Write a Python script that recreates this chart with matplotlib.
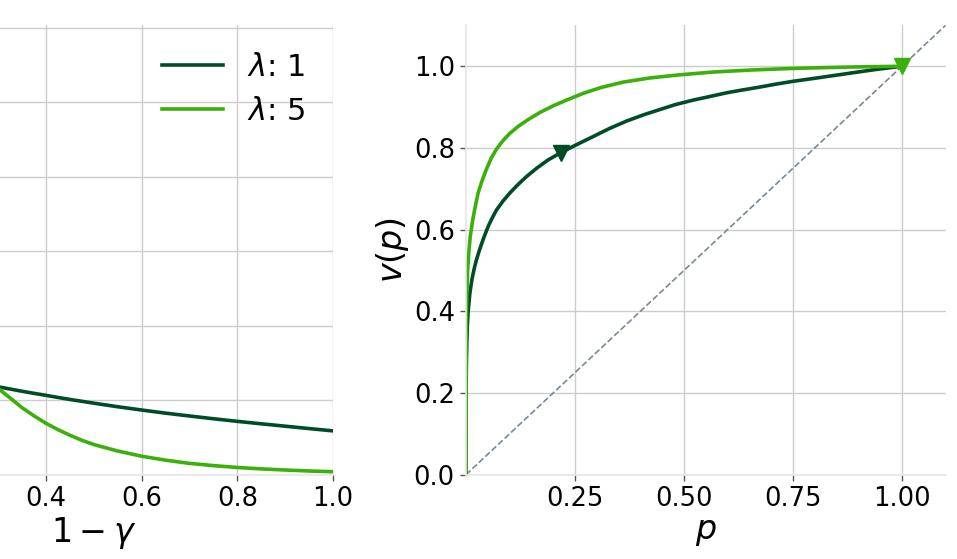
import numpy as np
import matplotlib.pyplot as plt

dark = '#004d25'
light = '#3cb00a'
labels = ['$\\lambda$: 1', '$\\lambda$: 5']

# left panel: value vs 1 - gamma (only the part from ~0.3 is visible)
g_x = [0.30, 0.325, 0.35, 0.375, 0.40, 0.425, 0.45, 0.475, 0.50, 0.55,
       0.60, 0.65, 0.70, 0.75, 0.80, 0.85, 0.90, 0.95, 1.0]
g_l1 = [1.18, 1.15, 1.12, 1.092, 1.065, 1.037, 1.01, 0.985, 0.96, 0.912,
        0.868, 0.826, 0.788, 0.751, 0.716, 0.683, 0.651, 0.619, 0.588]
g_l5 = [1.16, 1.03, 0.90, 0.79, 0.69, 0.605, 0.530, 0.462, 0.405, 0.318,
        0.248, 0.195, 0.152, 0.122, 0.097, 0.078, 0.063, 0.050, 0.040]

# right panel: v(p)
p_l1 = [0.0, 0.0005, 0.001, 0.002, 0.003, 0.005, 0.009, 0.014, 0.019, 0.024,
        0.031, 0.040, 0.051, 0.060, 0.070, 0.085, 0.101, 0.120, 0.139, 0.163,
        0.189, 0.217, 0.25, 0.292, 0.33, 0.369, 0.41, 0.445, 0.48, 0.521,
        0.56, 0.598, 0.635, 0.674, 0.71, 0.75, 0.81, 0.881, 0.94, 1.0]
v_l1 = [0.0, 0.22, 0.27, 0.325, 0.363, 0.40, 0.445, 0.48, 0.505, 0.526,
        0.55, 0.578, 0.608, 0.628, 0.648, 0.670, 0.690, 0.711, 0.730, 0.751,
        0.771, 0.788, 0.806, 0.828, 0.848, 0.866, 0.882, 0.894, 0.906, 0.917,
        0.926, 0.935, 0.942, 0.949, 0.956, 0.963, 0.972, 0.983, 0.992, 1.0]
p_l5 = [0.0, 0.0005, 0.001, 0.002, 0.004, 0.007, 0.010, 0.015, 0.020, 0.028,
        0.037, 0.047, 0.058, 0.070, 0.085, 0.100, 0.120, 0.145, 0.170, 0.200,
        0.235, 0.27, 0.31, 0.36, 0.42, 0.49, 0.57, 0.66, 0.76, 0.88, 1.0]
v_l5 = [0.0, 0.33, 0.39, 0.445, 0.505, 0.55, 0.585, 0.62, 0.65, 0.69,
        0.72, 0.748, 0.775, 0.797, 0.818, 0.835, 0.853, 0.871, 0.887, 0.903,
        0.919, 0.934, 0.948, 0.961, 0.971, 0.979, 0.986, 0.991, 0.995, 0.998, 1.0]
mark_p = [0.217, 1.0]
mark_v = [0.787, 1.0]

plt.rcParams['xtick.labelsize'] = 18.5
plt.rcParams['ytick.labelsize'] = 18.5

fig = plt.figure(figsize=(9.57, 5.59), dpi=100)
ax1 = fig.add_axes([-0.152, 0.1508, 0.5, 0.8038])
ax2 = fig.add_axes([0.4869, 0.1508, 0.5011, 0.8038])

for ax in (ax1, ax2):
    ax.grid(True, color='#cccccc', lw=1.0)
    ax.set_axisbelow(True)
    for s in ('top', 'right'):
        ax.spines[s].set_visible(False)
    for s in ('left', 'bottom'):
        ax.spines[s].set_color('#e6e6e6')
        ax.spines[s].set_linewidth(1.2)
    ax.tick_params(length=4, width=1, color='#555555', pad=4)

ax1.plot(g_x, g_l1, color=dark, lw=2.6, label=labels[0])
ax1.plot(g_x, g_l5, color=light, lw=2.6, label=labels[1])
ax1.set_xlim(0, 1)
ax1.set_ylim(0, 6.03)
ax1.set_xticks([0, 0.2, 0.4, 0.6, 0.8, 1.0])
ax1.set_xticklabels(['', '', '0.4', '0.6', '0.8', '1.0'])
ax1.set_yticks(range(7))
ax1.set_yticklabels([])
ax1.set_xlabel('$1-\\gamma$', fontsize=24, labelpad=2)
ax1.legend(loc='upper right', frameon=False, fontsize=22)

ax2.plot([0, 1.1], [0, 1.1], '--', color='#778899', lw=1.2)
ax2.plot(p_l1, v_l1, color=dark, lw=2.6)
ax2.plot(p_l5, v_l5, color=light, lw=2.6)
ax2.plot(mark_p[0], mark_v[0], 'v', color=dark, ms=12)
ax2.plot(mark_p[1], mark_v[1], 'v', color=light, ms=12)
ax2.set_xlim(0, 1.1)
ax2.set_ylim(0, 1.1)
ax2.set_xticks([0.25, 0.5, 0.75, 1.0])
ax2.set_yticks([0, 0.2, 0.4, 0.6, 0.8, 1.0])
ax2.set_xlabel('$p$', fontsize=24, labelpad=2)
ax2.set_ylabel('$v(p)$', fontsize=24, labelpad=2)

fig.savefig('out.png', dpi=100)
